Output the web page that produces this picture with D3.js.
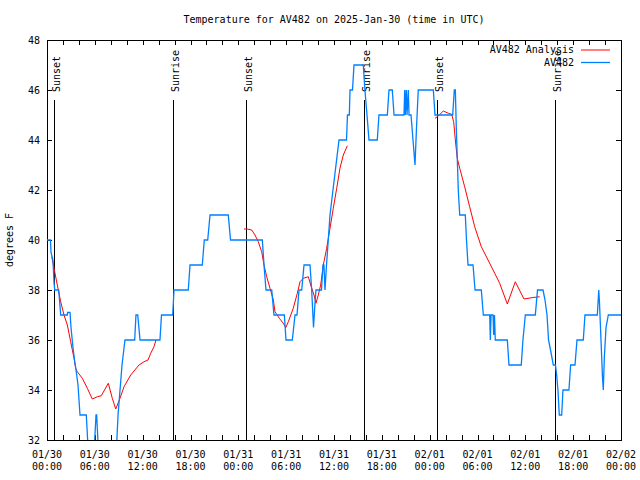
<!DOCTYPE html>
<html><head><meta charset="utf-8">
<script src="https://cdn.jsdelivr.net/npm/d3@7"></script>
<style>
html,body{margin:0;padding:0;background:#fff;}
svg{display:block;}
text{font-family:"DejaVu Sans Mono","Liberation Mono",monospace;font-size:10px;fill:#000;}
</style></head>
<body>
<svg id="chart" width="640" height="480"></svg>
<script>
// ---------------- data (hours since 2025-01-30 00:00 UTC) ----------------
const chartTitle = "Temperature for AV482 on 2025-Jan-30 (time in UTC)";
const yLabel = "degrees F";
const seriesNames = ["AV482 Analysis", "AV482"];

const tickHours = [0, 6, 12, 18, 24, 30, 36, 42, 48, 54, 60, 66, 72];
const tickDates = ["01/30","01/30","01/30","01/30","01/31","01/31","01/31","01/31","02/01","02/01","02/01","02/01","02/02"];
const tickTimes = ["00:00","06:00","12:00","18:00","00:00","06:00","12:00","18:00","00:00","06:00","12:00","18:00","00:00"];
const yTicks = [32, 34, 36, 38, 40, 42, 44, 46, 48];

const sunEventHours = [0.92, 15.77, 24.96, 39.80, 48.96, 63.76];
const sunEventNames = ["Sunset", "Sunrise", "Sunset", "Sunrise", "Sunset", "Sunrise"];

// observed AV482 temperatures
const obsHours = [0.00,0.44,0.50,0.75,0.88,0.97,1.47,1.72,2.55,2.58,2.89,3.01,3.26,3.45,3.64,3.89,4.14,4.93,5.18,5.90,
  6.15,6.23,6.46,8.69,8.91,9.16,9.41,9.78,11.00,11.16,11.38,11.67,14.17,14.36,15.77,15.93,17.72,17.94,19.48,19.73,
  20.16,20.45,22.74,23.02,27.01,27.22,27.47,28.19,28.47,29.77,29.98,30.77,31.11,31.36,31.61,31.95,32.24,32.99,33.20,33.43,
  33.62,33.74,34.43,34.62,34.74,34.87,35.06,35.28,35.50,35.87,36.25,36.63,36.94,37.57,37.69,37.92,38.01,38.32,38.51,39.67,
  39.88,40.14,40.39,41.43,41.64,42.69,42.90,43.31,43.53,44.78,44.87,44.94,45.07,45.16,45.32,45.41,45.66,45.91,46.16,46.35,
  46.57,48.46,48.67,50.89,51.09,51.22,51.34,51.46,51.59,51.77,52.47,52.62,52.81,53.44,53.69,54.48,54.73,55.53,55.61,55.70,
  55.95,56.03,56.13,56.23,57.74,57.95,59.49,59.70,60.00,61.25,61.53,62.22,62.47,62.72,62.91,63.22,63.51,63.78,63.93,64.09,
  64.26,64.56,64.72,65.47,65.68,66.23,66.48,67.27,67.48,69.03,69.21,69.30,69.49,69.68,69.78,69.91,70.12,70.41,72.00];
const obsTemps = [40,40,39.5,39.2,38.3,38,38,37,37,37.1,37.1,36.5,35.7,35.2,34.8,34.2,33,33,31.5,31.5,
  33,33,31.5,31.5,33,34,35,36,36,37,37,36,36,37,37,38,38,39,39,40,
  40,41,41,40,40,39,38,38,37,37,36,36,37,37,38,38,39,39,38,36.5,
  37.5,38,38,39,39,38,39,40,41,42,43,44,44,44,45,45,46,46,47,47,
  46,45,44,44,45,45,46,46,45,45,46,45,46,45,46,45,45,44,43,44.5,
  46,46,45,45,46,46,44.5,43.3,42,41,41,40,39,39,38,38,37,37,36,37,
  37,36.2,37,36,36,35,35,36,37,37,38,38,37.6,37,36,35.5,35,35,34.6,34,
  33,33,34,34,35,35,36,36,37,37,38,37.5,36,34.5,34,35.3,36.5,37,37];

// analysis (null = gap)
const anaHours = [0.59,0.88,1.29,1.72,2.13,2.55,2.97,3.39,3.60,3.80,4.43,5.06,5.68,6.31,6.81,7.69,8.19,8.62,9.16,9.66,
  10.50,11.54,12.17,12.67,13.01,13.42,13.67, null,
  24.71,25.13,25.68,26.09,26.50,26.93,27.22,27.56,27.97,28.39,28.60,29.14,29.64,29.94,30.27,30.89,31.40,31.74,32.15,32.78,
  33.08,33.49,33.74,34.03,34.33,34.66,35.08,35.50,35.91,36.34,36.75,37.17,37.67, null,
  48.67,49.08,49.71,50.34,50.76,51.01,51.22,51.46,51.77,52.39,53.02,53.65,54.48,55.32,56.16,56.78,57.74,58.74,59.83,60.96,61.80];
const anaTemps = [39.33,38.87,38.2,37.53,37.0,36.6,35.93,35.27,34.87,34.73,34.47,34.07,33.64,33.73,33.77,34.27,33.67,33.24,33.67,34.13,
  34.6,35.0,35.13,35.2,35.47,35.73,36.0, null,
  40.44,40.44,40.4,40.2,39.93,39.53,39.0,38.53,38.07,37.6,37.13,36.87,36.67,36.49,36.73,37.27,37.87,38.33,38.47,38.53,
  38.2,37.8,37.47,37.8,38.2,39.0,39.67,40.47,41.27,42.07,42.87,43.4,43.77, null,
  44.87,44.96,45.16,45.07,45.03,44.73,44.0,43.27,42.87,42.13,41.33,40.53,39.73,39.2,38.67,38.27,37.44,38.33,37.64,37.7,37.73];

// ---------------- drawing ----------------
const svg = d3.select("#chart");
const L = 47, R = 621, T = 40, B = 440;
const x = d3.scaleLinear().domain([0, 72]).range([L, R]);
const y = d3.scaleLinear().domain([32, 48]).range([B, T]);

svg.append("defs").append("clipPath").attr("id", "clip")
  .append("rect").attr("x", L).attr("y", T).attr("width", R - L).attr("height", B - T);

// title
svg.append("text").attr("x", (L + R) / 2).attr("y", 20).attr("text-anchor", "middle")
  .attr("dominant-baseline", "middle").text(chartTitle);

// y label
svg.append("text").attr("transform", `translate(10,${(T + B) / 2}) rotate(-90)`)
  .attr("text-anchor", "middle").attr("dominant-baseline", "middle").text(yLabel);

const minorTicks = d3.range(0, 73, 2);

// bottom axis
const gx = svg.append("g").attr("transform", `translate(0,${B})`)
  .call(d3.axisBottom(x).tickValues(minorTicks).tickSize(-5).tickSizeOuter(0).tickFormat(""));
gx.select(".domain").remove();
gx.selectAll("line").attr("stroke", "#000").attr("shape-rendering", "crispEdges");
tickHours.forEach((h, i) => {
  const t = svg.append("text").attr("x", x(h)).attr("text-anchor", "middle");
  t.append("tspan").attr("x", x(h)).attr("y", 458).text(tickDates[i]);
  t.append("tspan").attr("x", x(h)).attr("y", 470).text(tickTimes[i]);
});
// top mirror ticks
const gxt = svg.append("g").attr("transform", `translate(0,${T})`)
  .call(d3.axisTop(x).tickValues(minorTicks).tickSize(-5).tickSizeOuter(0).tickFormat(""));
gxt.select(".domain").remove();
gxt.selectAll("line").attr("stroke", "#000").attr("shape-rendering", "crispEdges");

// left axis
const gy = svg.append("g").attr("transform", `translate(${L},0)`)
  .call(d3.axisLeft(y).tickValues(yTicks).tickSize(-5).tickSizeOuter(0).tickPadding(7).tickFormat(d3.format("d")));
gy.select(".domain").remove();
gy.selectAll("line").attr("stroke", "#000").attr("shape-rendering", "crispEdges");
gy.selectAll("text").attr("font-size", 10).attr("font-family", "DejaVu Sans Mono");
// right mirror
const gyr = svg.append("g").attr("transform", `translate(${R},0)`)
  .call(d3.axisRight(y).tickValues(yTicks).tickSize(-5).tickSizeOuter(0).tickFormat(""));
gyr.select(".domain").remove();
gyr.selectAll("line").attr("stroke", "#000").attr("shape-rendering", "crispEdges");

// frame
svg.append("rect").attr("x", L).attr("y", T).attr("width", R - L).attr("height", B - T)
  .attr("fill", "none").attr("stroke", "#000").attr("shape-rendering", "crispEdges");

// sunrise / sunset lines
sunEventHours.forEach((h, i) => {
  const xx = Math.round(x(h)) + 0.5;
  svg.append("line").attr("x1", xx).attr("x2", xx).attr("y1", 100).attr("y2", B)
    .attr("stroke", "#000").attr("stroke-width", 1).attr("shape-rendering", "crispEdges");
  svg.append("text").attr("transform", `translate(${xx + 5},92) rotate(-90)`)
    .attr("text-anchor", "start").text(sunEventNames[i]);
});

const plot = svg.append("g").attr("clip-path", "url(#clip)");

// analysis line
const anaData = anaHours.map((h, i) => ({ h, v: anaTemps[i] }));
plot.append("path").datum(anaData)
  .attr("fill", "none").attr("stroke", "#ff0000").attr("stroke-width", 1)
  .attr("d", d3.line().defined(d => d.h !== null && d.v !== null).x(d => x(d.h)).y(d => y(d.v)));

// observations
const obsData = obsHours.map((h, i) => ({ h, v: obsTemps[i] }));
plot.append("path").datum(obsData)
  .attr("fill", "none").attr("stroke", "#0080ff").attr("stroke-width", 1.3)
  .attr("d", d3.line().x(d => x(d.h)).y(d => y(d.v)));

// legend
const colors = ["#ff0000", "#0080ff"];
seriesNames.forEach((n, i) => {
  const yy = 50 + i * 12.5;
  svg.append("text").attr("x", 574).attr("y", yy).attr("text-anchor", "end")
    .attr("dominant-baseline", "middle").text(n);
  svg.append("line").attr("x1", 581).attr("x2", 610).attr("y1", yy).attr("y2", yy)
    .attr("stroke", colors[i]).attr("stroke-width", i === 1 ? 1.3 : 1);
});
</script>
</body></html>
